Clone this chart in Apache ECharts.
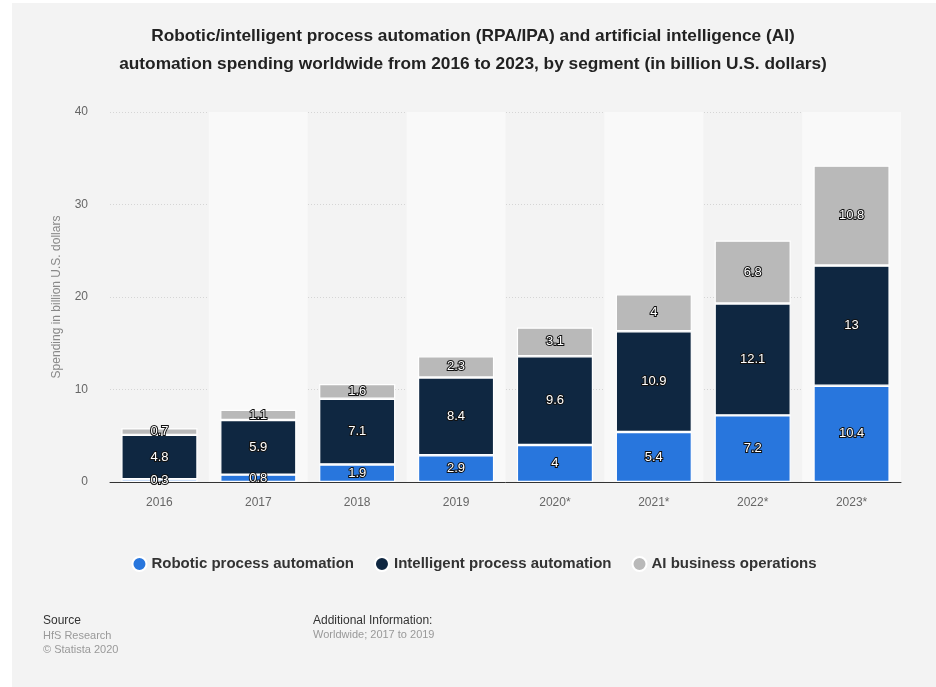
<!DOCTYPE html>
<html>
<head>
<meta charset="utf-8">
<script src="https://cdn.jsdelivr.net/npm/echarts@6/dist/echarts.min.js"></script>
<style>
html,body{margin:0;padding:0;background:#fff;}
#c{position:absolute;left:12px;top:3px;width:924px;height:684px;}
</style>
</head>
<body>
<div id="c"></div>
<script>
const categories = ['2016','2017','2018','2019','2020*','2021*','2022*','2023*'];
const rpaValues = [0.3, 0.8, 1.9, 2.9, 4, 5.4, 7.2, 10.4];
const ipaValues = [4.8, 5.9, 7.1, 8.4, 9.6, 10.9, 12.1, 13];
const aiValues = [0.7, 1.1, 1.6, 2.3, 3.1, 4, 6.8, 10.8];
const seriesNames = ['Robotic process automation', 'Intelligent process automation', 'AI business operations'];
const yTicks = [0, 10, 20, 30, 40];

const chart = echarts.init(document.getElementById('c'), null, {renderer: 'canvas'});
const font = 'Liberation Sans, Arial, sans-serif';
const labelStyle = {
  show: true, position: 'inside', color: '#fff', fontSize: 13, fontFamily: font,
  textBorderColor: '#111', textBorderWidth: 2
};
function mk(name, data, color) {
  return {
    name: name, type: 'bar', stack: 'total', data: data, barWidth: '77%',
    itemStyle: {color: color, borderColor: '#fff', borderWidth: 1.2},
    label: labelStyle
  };
}
chart.setOption({
  backgroundColor: '#f3f3f3',
  animation: false,
  title: {
    text: 'Robotic/intelligent process automation (RPA/IPA) and artificial intelligence (AI)\nautomation spending worldwide from 2016 to 2023, by segment (in billion U.S. dollars)',
    left: 456, top: 14, textAlign: 'center',
    textStyle: {fontFamily: font, fontWeight: 'bold', fontSize: 17.3, lineHeight: 28, color: '#222'}
  },
  grid: {left: 98, right: 35, top: 109, bottom: 205},
  legend: {
    top: 548, left: 'center', itemGap: 20, itemWidth: 14, itemHeight: 14, icon: 'circle',
    textStyle: {fontFamily: font, fontWeight: 'bold', fontSize: 15, color: '#333'},
    data: seriesNames
  },
  xAxis: {
    type: 'category', data: categories,
    axisLine: {lineStyle: {color: '#333', width: 1}},
    axisTick: {show: false},
    axisLabel: {color: '#666', fontSize: 12, fontFamily: font, margin: 15},
    splitArea: {show: true, areaStyle: {color: ['rgba(0,0,0,0)', '#f9f9f9']}}
  },
  yAxis: {
    type: 'value', min: yTicks[0], max: yTicks[yTicks.length - 1], interval: 10,
    name: 'Spending in billion U.S. dollars', nameLocation: 'middle', nameGap: 47,
    nameTextStyle: {color: '#888', fontSize: 12, fontFamily: font},
    axisLine: {show: false}, axisTick: {show: false},
    axisLabel: {color: '#666', fontSize: 12, fontFamily: font, margin: 22},
    splitLine: {lineStyle: {color: '#d5d5d5', type: [1, 2]}}
  },
  series: [
    mk(seriesNames[0], rpaValues, '#2876dd'),
    mk(seriesNames[1], ipaValues, '#0f2741'),
    mk(seriesNames[2], aiValues, '#b9b9b9')
  ],
  graphic: [
    {type: 'text', left: 31, top: 612, style: {text: 'Source', fill: '#333', fontSize: 12, fontFamily: font}},
    {type: 'text', left: 31, top: 626, style: {text: 'HfS Research\n© Statista 2020', fill: '#999', fontSize: 11, lineHeight: 14, fontFamily: font}},
    {type: 'text', left: 301, top: 612, style: {text: 'Additional Information:', fill: '#333', fontSize: 12, fontFamily: font}},
    {type: 'text', left: 301, top: 626, style: {text: 'Worldwide; 2017 to 2019', fill: '#999', fontSize: 11, fontFamily: font}}
  ]
});
</script>
</body>
</html>
